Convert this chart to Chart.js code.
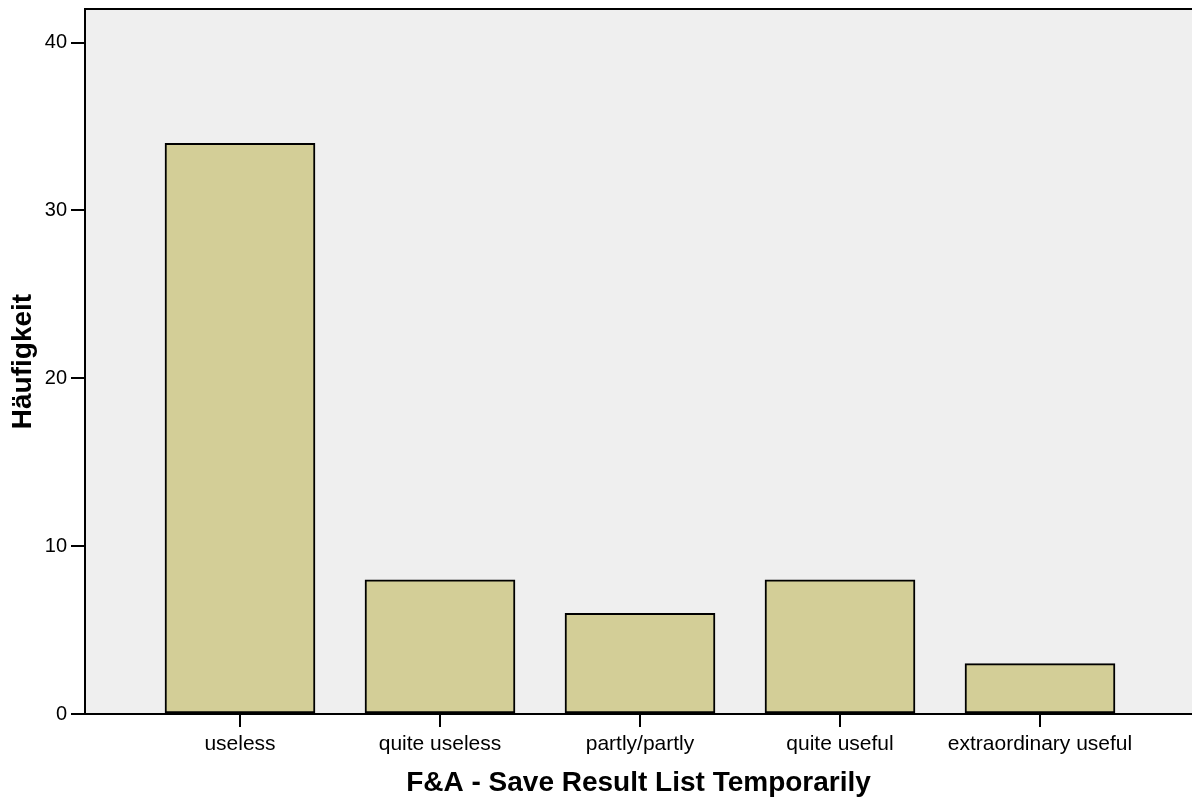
<!DOCTYPE html>
<html>
<head>
<meta charset="utf-8">
<script src="https://cdn.jsdelivr.net/npm/chart.js@4/dist/chart.umd.min.js"></script>
<style>
html,body{margin:0;padding:0;background:#fff;}
#wrap{width:1192px;height:800px;position:relative;}
</style>
</head>
<body>
<div id="wrap"><canvas id="c" width="1192" height="800"></canvas></div>
<script>
const categories = ["useless", "quite useless", "partly/partly", "quite useful", "extraordinary useful"];
const counts = [34, 8, 6, 8, 3];
const yTicks = [0, 10, 20, 30, 40];
const xTitle = "F&A - Save Result List Temporarily";
const yTitle = "Häufigkeit";

const bgPlugin = {
  id: 'bg',
  beforeDraw(chart) {
    const {ctx, chartArea: a} = chart;
    ctx.save();
    ctx.fillStyle = '#EFEFEF';
    ctx.fillRect(a.left, a.top, a.right - a.left, a.bottom - a.top);
    ctx.restore();
  },
  afterDraw(chart) {
    const {ctx, chartArea: a} = chart;
    ctx.save();
    ctx.strokeStyle = '#000';
    ctx.lineWidth = 2;
    ctx.beginPath();
    ctx.moveTo(a.left - 1, a.top);
    ctx.lineTo(a.right, a.top);
    ctx.stroke();
    ctx.restore();
  }
};

const FONT = 'Liberation Sans, Arial, sans-serif';

new Chart(document.getElementById('c'), {
  type: 'bar',
  data: {
    datasets: [{
      data: counts.map((v, i) => ({x: i, y: v})),
      backgroundColor: '#D3CE97',
      borderColor: '#000',
      borderWidth: 2,
      borderSkipped: false,
      barThickness: 150
    }]
  },
  plugins: [bgPlugin],
  options: {
    responsive: false,
    animation: false,
    layout: {padding: {top: 9, right: 0, left: 0, bottom: 0}},
    plugins: {legend: {display: false}, tooltip: {enabled: false}},
    scales: {
      x: {
        type: 'linear',
        offset: false,
        min: -0.775,
        max: 4.76,
        afterBuildTicks(s) { s.ticks = categories.map((c, i) => ({value: i})); },
        afterFit(s) { s.height = 86; s.paddingLeft = 0; s.paddingRight = 0; },
        ticks: {
          autoSkip: false,
          maxRotation: 0,
          color: '#000',
          padding: 5,
          font: {family: FONT, size: 21},
          callback: (v) => categories[v]
        },
        grid: {offset: false, drawOnChartArea: false, tickLength: 13, tickColor: '#000', lineWidth: 2},
        border: {color: '#000', width: 2},
        title: {
          display: true, text: xTitle, color: '#000',
          font: {family: FONT, size: 28, weight: 'bold'},
          padding: {top: 4, bottom: 0}
        }
      },
      y: {
        type: 'linear',
        min: 0,
        max: 42,
        afterBuildTicks(s) { s.ticks = yTicks.map(v => ({value: v})); },
        afterFit(s) { s.width = 85; s.paddingTop = 0; s.paddingBottom = 0; },
        ticks: {
          color: '#000',
          padding: 4,
          font: {family: FONT, size: 20}
        },
        grid: {drawOnChartArea: false, tickLength: 14, tickColor: '#000', lineWidth: 2},
        border: {color: '#000', width: 2},
        title: {
          display: true, text: yTitle, color: '#000',
          font: {family: FONT, size: 28, weight: 'bold'},
          padding: {top: 6, bottom: 0}
        }
      }
    }
  }
});
</script>
</body>
</html>
